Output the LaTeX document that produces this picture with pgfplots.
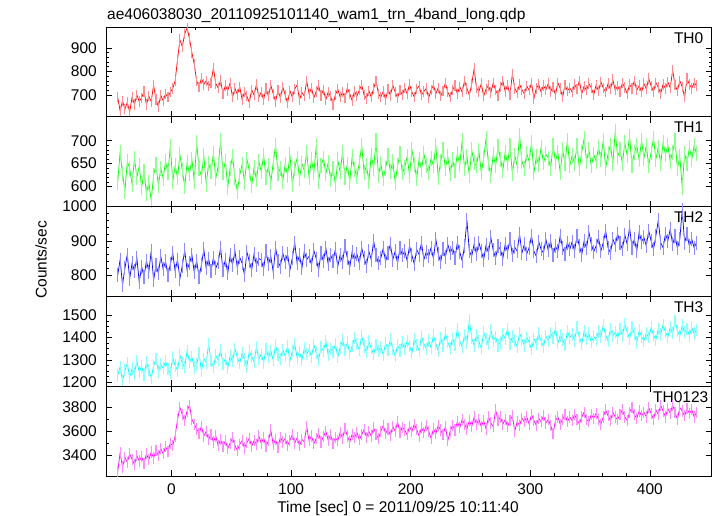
\documentclass[border=0pt]{standalone}
\usepackage{fontspec}
\setmainfont{Liberation Sans}
\usepackage{pgfplots}
\usepackage{pgfplotstable}
\pgfplotsset{compat=1.18}
\newcommand{\fs}{\fontsize{15.5}{18}\selectfont}
\definecolor{qred}{RGB}{255,0,0}
\definecolor{qgreen}{RGB}{0,255,0}
\definecolor{qblue}{RGB}{0,0,255}
\definecolor{qcyan}{RGB}{0,255,255}
\definecolor{qmag}{RGB}{255,0,255}

% time bins: t = -45 + 2*index  (s)
\pgfplotstableread[row sep=\\]{y\\
690\\632\\675\\640\\668\\628\\690\\660\\700\\672\\
688\\715\\660\\695\\672\\742\\680\\650\\698\\675\\
705\\690\\712\\728\\760\\850\\935\\905\\960\\985\\
940\\880\\830\\760\\735\\770\\745\\760\\738\\752\\
815\\748\\730\\762\\705\\740\\718\\752\\690\\728\\
702\\735\\680\\712\\695\\668\\722\\700\\745\\690\\
712\\680\\728\\695\\742\\705\\672\\720\\688\\735\\
700\\665\\718\\690\\725\\742\\680\\710\\695\\760\\
705\\730\\688\\715\\740\\698\\722\\680\\712\\695\\
660\\700\\725\\690\\712\\688\\730\\705\\676\\715\\
695\\720\\742\\700\\685\\718\\690\\728\\760\\705\\
690\\715\\680\\725\\698\\742\\712\\688\\720\\700\\
730\\705\\745\\712\\690\\725\\738\\700\\715\\728\\
688\\720\\742\\705\\730\\695\\718\\750\\712\\690\\
722\\740\\705\\735\\712\\760\\728\\700\\745\\812\\
730\\715\\748\\695\\725\\740\\710\\752\\720\\698\\
735\\760\\715\\742\\700\\790\\728\\710\\745\\722\\
705\\738\\720\\750\\685\\728\\745\\712\\740\\722\\
748\\715\\735\\700\\752\\728\\690\\742\\718\\730\\
712\\745\\725\\760\\705\\738\\720\\748\\730\\700\\
742\\718\\755\\730\\712\\748\\725\\765\\720\\738\\
715\\750\\732\\705\\745\\728\\760\\720\\740\\712\\
748\\725\\770\\738\\715\\752\\732\\705\\745\\728\\
755\\730\\805\\742\\718\\760\\735\\690\\770\\745\\
728\\752\\740\\
}\thzero

\pgfplotstableread[row sep=\\]{y\\
610\\675\\628\\590\\655\\640\\605\\662\\620\\645\\
598\\632\\585\\610\\570\\625\\648\\602\\640\\618\\
655\\630\\688\\612\\645\\620\\670\\635\\600\\652\\
628\\660\\612\\695\\640\\622\\668\\605\\650\\632\\
672\\618\\645\\700\\630\\655\\598\\640\\665\\620\\
590\\625\\648\\610\\660\\635\\602\\642\\615\\655\\
632\\668\\620\\645\\608\\652\\690\\628\\640\\612\\
648\\625\\670\\605\\640\\662\\618\\650\\635\\675\\
620\\658\\630\\690\\612\\645\\662\\628\\652\\615\\
640\\605\\658\\632\\675\\620\\648\\610\\665\\638\\
622\\652\\690\\630\\645\\612\\668\\640\\700\\625\\
650\\618\\640\\668\\632\\655\\610\\645\\672\\630\\
642\\665\\625\\680\\648\\618\\660\\638\\672\\645\\
630\\662\\645\\690\\620\\655\\680\\640\\665\\628\\
658\\635\\672\\648\\700\\640\\665\\625\\680\\652\\
645\\678\\630\\662\\705\\650\\625\\670\\645\\688\\
660\\635\\675\\650\\690\\628\\668\\645\\712\\655\\
640\\672\\655\\695\\630\\665\\648\\685\\652\\670\\
662\\640\\690\\655\\675\\630\\680\\650\\700\\645\\
668\\650\\690\\640\\675\\705\\655\\680\\645\\670\\
655\\685\\660\\700\\640\\672\\690\\650\\720\\665\\
680\\650\\695\\668\\710\\645\\675\\690\\658\\700\\
662\\690\\645\\675\\705\\660\\685\\650\\695\\670\\
690\\655\\675\\700\\640\\665\\598\\672\\650\\685\\
660\\690\\672\\
}\thone

\pgfplotstableread[row sep=\\]{y\\
800\\845\\772\\820\\860\\790\\835\\812\\850\\780\\
825\\795\\842\\810\\870\\785\\830\\805\\855\\818\\
840\\800\\832\\865\\812\\845\\790\\828\\872\\815\\
835\\860\\808\\842\\795\\830\\875\\820\\848\\812\\
850\\820\\838\\880\\815\\845\\805\\858\\830\\870\\
822\\852\\835\\800\\868\\840\\815\\862\\830\\848\\
845\\818\\870\\832\\855\\810\\880\\840\\825\\865\\
838\\862\\815\\850\\895\\835\\858\\820\\870\\845\\
855\\830\\872\\848\\815\\865\\840\\880\\832\\858\\
842\\875\\825\\860\\838\\885\\850\\822\\868\\845\\
862\\835\\880\\850\\828\\870\\845\\900\\858\\835\\
850\\878\\840\\865\\890\\845\\870\\835\\880\\858\\
870\\842\\885\\858\\832\\875\\860\\895\\845\\868\\
855\\880\\848\\905\\862\\838\\875\\852\\890\\865\\
880\\850\\895\\868\\842\\885\\960\\870\\855\\890\\
862\\895\\870\\845\\888\\865\\910\\872\\850\\885\\
875\\848\\890\\868\\905\\858\\882\\870\\920\\865\\
890\\862\\880\\915\\870\\855\\898\\875\\865\\905\\
872\\900\\858\\885\\870\\915\\880\\862\\895\\875\\
898\\870\\915\\885\\860\\900\\878\\925\\890\\868\\
885\\910\\870\\895\\930\\880\\865\\905\\888\\920\\
895\\875\\918\\890\\940\\880\\905\\870\\925\\898\\
910\\885\\930\\900\\875\\915\\960\\895\\880\\920\\
900\\935\\890\\915\\878\\905\\990\\895\\920\\885\\
905\\880\\895\\
}\thtwo

\pgfplotstableread[row sep=\\]{y\\
1230\\1268\\1205\\1252\\1284\\1222\\1260\\1238\\1295\\1245\\
1270\\1232\\1288\\1255\\1218\\1272\\1305\\1248\\1280\\1262\\
1295\\1258\\1240\\1310\\1275\\1252\\1320\\1285\\1268\\1340\\
1290\\1312\\1265\\1278\\1330\\1250\\1305\\1288\\1372\\1295\\
1268\\1320\\1298\\1345\\1282\\1305\\1262\\1318\\1295\\1350\\
1310\\1285\\1330\\1302\\1270\\1338\\1315\\1292\\1358\\1305\\
1325\\1288\\1350\\1312\\1340\\1298\\1365\\1322\\1305\\1345\\
1318\\1362\\1295\\1340\\1372\\1310\\1335\\1298\\1352\\1325\\
1345\\1315\\1368\\1332\\1300\\1358\\1340\\1385\\1322\\1350\\
1335\\1370\\1312\\1355\\1390\\1345\\1378\\1330\\1362\\1398\\
1372\\1345\\1408\\1360\\1335\\1382\\1352\\1325\\1368\\1340\\
1358\\1322\\1375\\1345\\1392\\1350\\1318\\1365\\1342\\1380\\
1348\\1385\\1362\\1330\\1395\\1368\\1342\\1405\\1372\\1350\\
1388\\1355\\1410\\1372\\1340\\1398\\1365\\1420\\1380\\1352\\
1395\\1368\\1440\\1385\\1358\\1412\\1378\\1478\\1398\\1365\\
1410\\1382\\1352\\1425\\1395\\1370\\1432\\1388\\1402\\1365\\
1378\\1415\\1395\\1440\\1372\\1405\\1388\\1358\\1420\\1392\\
1365\\1402\\1380\\1348\\1395\\1372\\1418\\1385\\1360\\1408\\
1385\\1420\\1398\\1442\\1375\\1410\\1392\\1368\\1428\\1400\\
1415\\1388\\1445\\1402\\1372\\1430\\1395\\1418\\1380\\1405\\
1392\\1428\\1405\\1455\\1412\\1385\\1438\\1408\\1425\\1398\\
1440\\1410\\1462\\1425\\1395\\1448\\1418\\1378\\1432\\1405\\
1385\\1420\\1402\\1445\\1412\\1390\\1438\\1415\\1458\\1425\\
1402\\1448\\1420\\1475\\1432\\1408\\1455\\1425\\1440\\1410\\
1445\\1418\\1435\\
}\ththree

\pgfplotstableread[row sep=\\]{y\\
3260\\3420\\3300\\3380\\3340\\3410\\3365\\3320\\3395\\3350\\
3385\\3330\\3410\\3360\\3425\\3375\\3440\\3395\\3455\\3410\\
3470\\3430\\3500\\3480\\3560\\3700\\3800\\3740\\3690\\3770\\
3820\\3700\\3660\\3620\\3580\\3640\\3560\\3600\\3530\\3575\\
3510\\3560\\3480\\3530\\3470\\3520\\3455\\3500\\3545\\3480\\
3440\\3490\\3520\\3460\\3505\\3540\\3475\\3520\\3490\\3560\\
3500\\3545\\3470\\3520\\3610\\3490\\3530\\3465\\3550\\3510\\
3540\\3480\\3525\\3570\\3500\\3545\\3480\\3530\\3510\\3640\\
3520\\3560\\3495\\3540\\3580\\3510\\3555\\3600\\3525\\3570\\
3500\\3545\\3520\\3590\\3540\\3625\\3560\\3510\\3575\\3545\\
3590\\3530\\3570\\3615\\3550\\3600\\3560\\3630\\3575\\3540\\
3600\\3650\\3580\\3620\\3565\\3640\\3600\\3680\\3590\\3635\\
3610\\3570\\3640\\3600\\3660\\3615\\3560\\3630\\3590\\3650\\
3600\\3540\\3620\\3580\\3650\\3610\\3570\\3640\\3520\\3600\\
3650\\3610\\3680\\3630\\3700\\3660\\3620\\3690\\3640\\3720\\
3660\\3700\\3640\\3690\\3620\\3720\\3670\\3640\\3780\\3690\\
3720\\3660\\3700\\3640\\3690\\3730\\3600\\3680\\3650\\3710\\
3680\\3720\\3660\\3740\\3690\\3650\\3710\\3680\\3730\\3670\\
3700\\3650\\3580\\3690\\3720\\3660\\3700\\3740\\3680\\3720\\
3690\\3740\\3700\\3660\\3720\\3760\\3700\\3680\\3740\\3710\\
3750\\3700\\3660\\3720\\3780\\3730\\3690\\3760\\3720\\3700\\
3740\\3780\\3720\\3690\\3760\\3800\\3740\\3710\\3770\\3730\\
3760\\3720\\3800\\3750\\3700\\3780\\3740\\3820\\3770\\3720\\
3790\\3750\\3820\\3760\\3700\\3800\\3770\\3730\\3790\\3750\\
3780\\3720\\3760\\
}\thall

\pgfplotsset{
  panel/.style={
    scale only axis, width=605.5pt, height=89.8pt,
    xmin=-54.8, xmax=451.5,
    xtick={0,100,200,300,400}, minor x tick num=4,
    tick align=inside, major tick length=6pt, minor tick length=3pt,
    axis line style={line width=0.8pt},
    major tick style={line width=0.6pt, black},
    minor tick style={line width=0.6pt, black},
    tick label style={font=\fs},
    yticklabel style={inner sep=0pt, anchor=east, xshift=-9pt},
    xticklabel style={inner sep=0pt, anchor=north, yshift=-7pt},
    /pgf/number format/assume math mode=true,
    /pgf/number format/1000 sep={},
  },
  % light vertical error bars of fixed half-length (in pt) at every bin
  errbar/.style 2 args={only marks, mark=|, mark size=#1, color=#2,
    mark options={line width=1.1pt, color=#2}},
}

\begin{document}
\begin{tikzpicture}
\path[use as bounding box] (0pt,0pt) rectangle (717pt,-516pt);

% TH0
\begin{axis}[panel, at={(106pt,-116.8pt)}, anchor=south west,
  ymin=607, ymax=989, ytick={700,800,900}, minor y tick num=4, xticklabels={}]
\addplot[errbar={5.2pt}{qred!45}] table[x expr=\coordindex*2-45, y=y]{\thzero};
\addplot[qred, line width=0.7pt] table[x expr=\coordindex*2-45, y=y]{\thzero};
\node[anchor=north east, inner sep=0pt, font=\fs, xshift=-8pt, yshift=-5pt] at (rel axis cs:1,1) {TH0};
\end{axis}

% TH1
\begin{axis}[panel, at={(106pt,-206.6pt)}, anchor=south west,
  ymin=556.5, ymax=752, ytick={600,650,700}, minor y tick num=4, xticklabels={}]
\addplot[errbar={7.5pt}{qgreen!45}] table[x expr=\coordindex*2-45, y=y]{\thone};
\addplot[qgreen, line width=0.7pt] table[x expr=\coordindex*2-45, y=y]{\thone};
\node[anchor=north east, inner sep=0pt, font=\fs, xshift=-8pt, yshift=-5pt] at (rel axis cs:1,1) {TH1};
\end{axis}

% TH2
\begin{axis}[panel, at={(106pt,-296.4pt)}, anchor=south west,
  ymin=738, ymax=1000, ytick={800,900,1000}, minor y tick num=4, xticklabels={}]
\addplot[errbar={7pt}{qblue!45}] table[x expr=\coordindex*2-45, y=y]{\thtwo};
\addplot[qblue, line width=0.7pt] table[x expr=\coordindex*2-45, y=y]{\thtwo};
\node[anchor=north east, inner sep=0pt, font=\fs, xshift=-8pt, yshift=-5pt] at (rel axis cs:1,1) {TH2};
\end{axis}

% TH3
\begin{axis}[panel, at={(106pt,-386.2pt)}, anchor=south west,
  ymin=1181, ymax=1586, ytick={1200,1300,1400,1500}, minor y tick num=3, xticklabels={}]
\addplot[errbar={6.2pt}{qcyan!45}] table[x expr=\coordindex*2-45, y=y]{\ththree};
\addplot[qcyan, line width=0.7pt] table[x expr=\coordindex*2-45, y=y]{\ththree};
\node[anchor=north east, inner sep=0pt, font=\fs, xshift=-8pt, yshift=-5pt] at (rel axis cs:1,1) {TH3};
\end{axis}

% TH0123
\begin{axis}[panel, at={(106pt,-476pt)}, anchor=south west,
  ymin=3224, ymax=3979, ytick={3400,3600,3800}, minor y tick num=1]
\addplot[errbar={5.6pt}{qmag!45}] table[x expr=\coordindex*2-45, y=y]{\thall};
\addplot[qmag, line width=0.7pt] table[x expr=\coordindex*2-45, y=y]{\thall};
\node[anchor=north east, inner sep=0pt, font=\fs, xshift=-3pt, yshift=-5pt] at (rel axis cs:1,1) {TH0123};
\end{axis}

\node[anchor=base west, inner sep=0pt, font=\fs] at (107pt,-20pt) {ae406038030\_20110925101140\_wam1\_trn\_4band\_long.qdp};
\node[anchor=base, inner sep=0pt, font=\fs] at (398pt,-512pt) {Time [sec] 0 = 2011/09/25 10:11:40};
\node[rotate=90, inner sep=0pt, font=\fs] at (41pt,-260pt) {Counts/sec};
\end{tikzpicture}
\end{document}
